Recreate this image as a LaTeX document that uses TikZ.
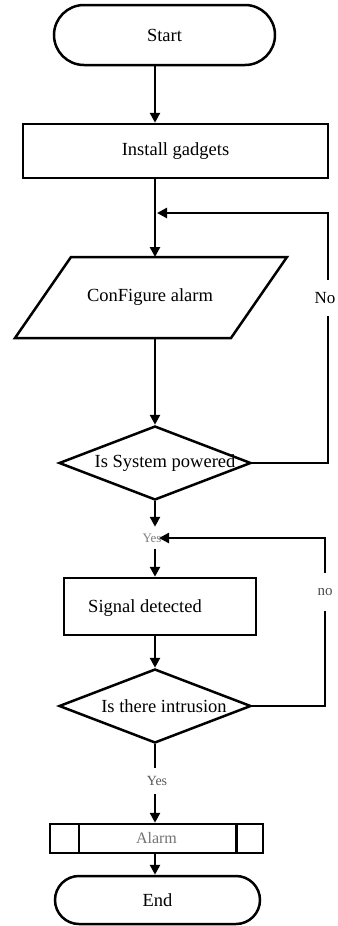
\documentclass[tikz,border=0pt]{standalone}
\usepackage{fontspec}
\setmainfont{Liberation Serif}
\usetikzlibrary{arrows.meta,shapes.geometric}
\begin{document}
\begin{tikzpicture}[x=1bp,y=-1bp,
  line width=2.5bp, line join=miter,
  arr/.style={-{Triangle[length=10bp,width=10bp]}},
  box/.style={draw, rectangle, inner sep=0pt},
  term/.style={draw, rectangle, rounded corners=#1, inner sep=0pt},
  dec/.style={draw, diamond, inner sep=0pt, minimum width=192bp, minimum height=74bp},
  txt/.style={font=\fontsize{18.5bp}{20bp}\selectfont, inner sep=0pt},
  lab/.style={inner xsep=1bp, inner ysep=0pt, text height=9bp, text depth=0bp}
]
\path[fill=white, use as bounding box] (0,0) rectangle (337,926);
\coordinate (spine) at (155,0);

% shapes
\node[term=30bp, minimum width=221bp, minimum height=60bp, txt] (start) at (164.5,35) {Start};
\node[box, minimum width=305bp, minimum height=54bp, txt] (install) at (175.5,151) {Install gadgets};

\coordinate (p1) at (71,257);
\coordinate (p2) at (287,257);
\coordinate (p3) at (231,338);
\coordinate (p4) at (15,338);
\draw (p1) -- (p2) -- (p3) -- (p4) -- cycle;
\node[txt] (cfg) at (150,297) {ConFigure alarm};

\node[dec] (d1) at (155,463) {};
\node[txt] (d1t) at (165,463) {Is System powered};

\node[box, minimum width=192bp, minimum height=57bp] (signal) at (160,606.5) {};
\node[txt] (signalt) at (145,608) {Signal detected};

\node[dec] (d2) at (155,706) {};
\node[txt] (d2t) at (164,706) {Is there intrusion};

\node[box, minimum width=213bp, minimum height=29bp, text=black!55, font=\fontsize{16bp}{17bp}\selectfont] (alarm) at (156.5,838.5) {Alarm};
\draw ([xshift=30bp]alarm.north west) -- ([xshift=30bp]alarm.south west);
\draw ([xshift=-28bp]alarm.north east) -- ([xshift=-28bp]alarm.south east);

\node[term=24bp, minimum width=205bp, minimum height=48bp, txt] (end) at (157.5,900) {End};

% yes labels
\node[lab, text=black!50, font=\fontsize{13bp}{14bp}\selectfont, inner ysep=5.5bp] (yes1) at (152,538) {Yes};
\node[lab, text=black!65, font=\fontsize{14bp}{15bp}\selectfont, inner ysep=7.5bp] (yes2) at (157,781) {Yes};

% loop corner coordinates
\coordinate (a1) at (328,463);
\coordinate (a2) at (328,213);
\coordinate (a3) at (157,213);
\coordinate (b1) at (325,706);
\coordinate (b2) at (325,538);
\coordinate (b3) at (159,538);

% main flow
\draw[arr] (start.south -| spine) -- (install.north -| spine);
\draw[arr] (install.south -| spine) -- (spine |- p1);
\draw[arr] (spine |- p4) -- (d1.north);
\draw[arr] (d1.south) -- (yes1.north -| spine);
\draw[arr] (yes1.south -| spine) -- (signal.north -| spine);
\draw[arr] (signal.south -| spine) -- (d2.north);
\draw (d2.south) -- (yes2.north -| spine);
\draw[arr] (yes2.south -| spine) -- (alarm.north -| spine);
\draw[arr] (alarm.south -| spine) -- (end.north -| spine);

% loops
\draw[arr] (d1.east) -- (a1) -- (a2) -- (a3);
\draw[arr] (d2.east) -- (b1) -- (b2) -- (b3);

\node[fill=white, inner xsep=1bp, minimum height=36bp, font=\fontsize{17bp}{18bp}\selectfont] (nolab) at (325,298) {No};
\node[fill=white, inner xsep=1bp, minimum height=38bp, text=black!70, font=\fontsize{15bp}{16bp}\selectfont] (nolab2) at (325,592) {no};
\end{tikzpicture}
\end{document}
